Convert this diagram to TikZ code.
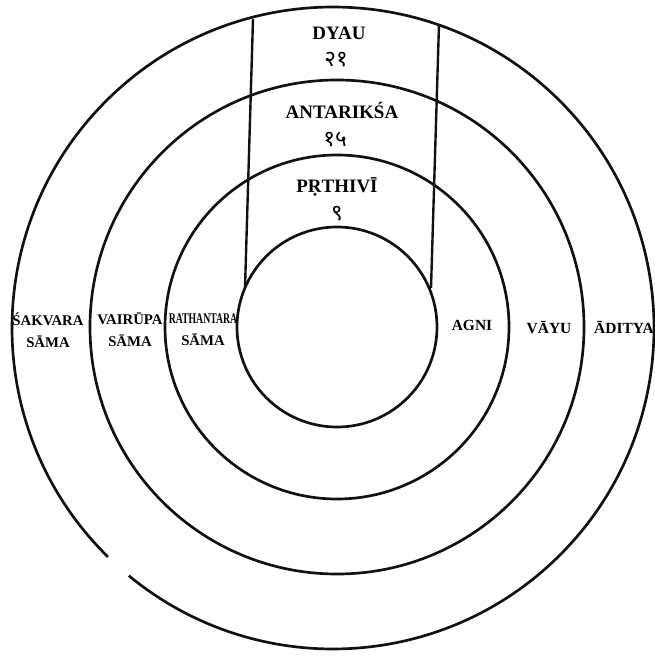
\documentclass[tikz,border=0pt]{standalone}
\usepackage{fontspec}
\usepackage{graphicx}
\usepackage{tikz}
\usetikzlibrary{positioning,calc}
\setmainfont{Liberation Serif}
\newfontfamily\devfont[Script=Devanagari]{Noto Sans}
\definecolor{inkBlack}{HTML}{111111}
\tikzset{
  ring/.style={draw=inkBlack, line width=1.9pt},
  divider/.style={draw=inkBlack, line width=1.7pt},
  loka/.style={font=\fontsize{13.5}{15}\selectfont\bfseries, inner sep=0pt},
  stoma/.style={font=\devfont\fontsize{16}{18}\selectfont, inner sep=0pt},
  sama/.style={font=\fontsize{10.5}{15.6}\selectfont\bfseries, align=center, inner sep=0pt},
  deva/.style={font=\fontsize{11}{13}\selectfont\bfseries, inner sep=0pt},
}

\begin{document}
\begin{tikzpicture}[x=0.025cm, y=-0.025cm]
\useasboundingbox (0,0) rectangle (654,656);
\coordinate (c) at (337,327);
\coordinate (co) at (333,328);

% Circles
\draw[ring] (c) circle[radius=100];
\draw[ring] (c) circle[radius=172];
\draw[ring] (c) circle[radius=247];
\draw[ring] ([shift={(134.5:321)}]co) arc[start angle=134.5, end angle=489.5, radius=321];

% Column
\coordinate (lt) at (253,19);
\coordinate (lb) at (245,288);
\coordinate (rt) at (439,24);
\coordinate (rb) at (431,288);
\draw[divider] (lt) -- (lb);
\draw[divider] (rt) -- (rb);

% Lokas
\node[loka] (dyau) at (339,33) {DYAU};
\node[stoma] (n21) at (336,60) {२१};
\node[loka] (antariksa) at (342,110) {ANTARIKŚA};
\node[stoma] (n15) at (335,140) {१५};
\node[loka] (prthivi) at (337,187) {PṚTHIVĪ};
\node[stoma] (n9) at (337,214) {९};

% Samas
\node[sama] (sakvara) at (48,330) {ŚAKVARA\\SĀMA};
\node[sama] (vairupa) at (130,330) {VAIRŪPA\\SĀMA};
\node[sama] (rathantara) at (203,330) {\scalebox{0.66}[1]{RATHANTARA}\\SĀMA};

% Devatas
\node[deva] (agni) at (472,325) {AGNI};
\node[deva] (vayu) at (549,328) {VĀYU};
\node[deva] (aditya) at (624,327) {ĀDITYA};
\end{tikzpicture}
\end{document}
